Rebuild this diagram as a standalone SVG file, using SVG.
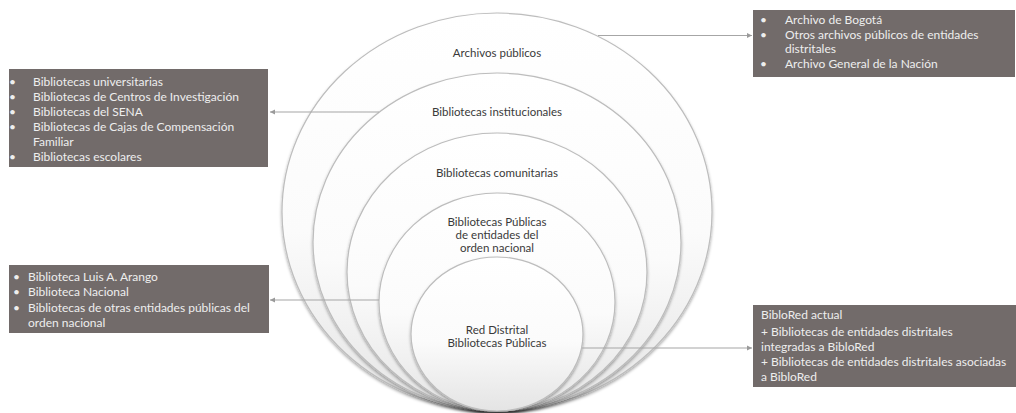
<svg xmlns="http://www.w3.org/2000/svg" width="1016" height="413" viewBox="0 0 1016 413">
<defs>
<linearGradient id="gfill" x1="0" y1="0" x2="0" y2="1">
<stop offset="0" stop-color="#ffffff"/>
<stop offset="0.55" stop-color="#fbfbfb"/>
<stop offset="1" stop-color="#e4e4e4"/>
</linearGradient>
<filter id="sh" x="-10%" y="-10%" width="120%" height="125%">
<feDropShadow dx="0" dy="2" stdDeviation="1.6" flood-color="#000" flood-opacity="0.35"/>
</filter>
<marker id="ah" markerWidth="6" markerHeight="6" refX="5" refY="3" orient="auto" markerUnits="userSpaceOnUse">
<path d="M0,0.5 L5,3 L0,5.5 Z" fill="#9a9a9a"/>
</marker>
<style>
.ring{fill:url(#gfill);stroke:#bdbdbd;stroke-width:1.2;filter:url(#sh)}
.lbl{font-family:Lato,"Open Sans","Liberation Sans",sans-serif;font-size:11.5px;fill:#3a3a3a;text-anchor:middle}
.box{fill:#726b6a}
.bt{font-family:Lato,"Open Sans","Liberation Sans",sans-serif;font-size:12px;fill:#eeeeee}
.con{stroke:#a6a6a6;stroke-width:1.2;fill:none;marker-end:url(#ah)}
</style>
</defs>
<rect width="1016" height="413" fill="#ffffff"/>

<g id="ring-archivos">
<ellipse class="ring" cx="497" cy="212" rx="215" ry="199"/>
<text class="lbl" x="497" y="57">Archivos públicos</text>
</g>
<g id="ring-institucionales">
<ellipse class="ring" cx="497" cy="242" rx="184" ry="169"/>
<text class="lbl" x="497" y="116">Bibliotecas institucionales</text>
</g>
<g id="ring-comunitarias">
<ellipse class="ring" cx="497" cy="272" rx="150" ry="139"/>
<text class="lbl" x="497" y="177">Bibliotecas comunitarias</text>
</g>
<g id="ring-nacional">
<ellipse class="ring" cx="497" cy="302" rx="118" ry="109"/>
<text class="lbl" x="497" y="226">Bibliotecas Públicas</text>
<text class="lbl" x="497" y="239">de entidades del</text>
<text class="lbl" x="497" y="252">orden nacional</text>
</g>
<g id="ring-red">
<ellipse class="ring" cx="497" cy="334" rx="86" ry="77"/>
<text class="lbl" x="497" y="334">Red Distrital</text>
<text class="lbl" x="497" y="347">Bibliotecas Públicas</text>
</g>

<g id="connectors">
<line class="con" x1="598" y1="35.5" x2="752" y2="35.5"/>
<line class="con" x1="379" y1="112" x2="270" y2="112"/>
<line class="con" x1="379" y1="300" x2="270" y2="300"/>
<line class="con" x1="582" y1="348" x2="752" y2="348"/>
</g>

<g id="box-archivos">
<rect class="box" x="753" y="10" width="262" height="67"/>
<text class="bt"><tspan x="760" y="24">•</tspan><tspan x="785" y="24">Archivo de Bogotá</tspan><tspan x="760" y="39">•</tspan><tspan x="785" y="39">Otros archivos públicos de entidades</tspan><tspan x="785" y="53">distritales</tspan><tspan x="760" y="68">•</tspan><tspan x="785" y="68">Archivo General de la Nación</tspan></text>
</g>

<g id="box-institucionales">
<rect class="box" x="9" y="69" width="259" height="98"/>
<text class="bt"><tspan x="9" y="86">•</tspan><tspan x="33" y="86">Bibliotecas universitarias</tspan><tspan x="9" y="101">•</tspan><tspan x="33" y="101">Bibliotecas de Centros de Investigación</tspan><tspan x="9" y="116">•</tspan><tspan x="33" y="116">Bibliotecas del SENA</tspan><tspan x="9" y="131">•</tspan><tspan x="33" y="131">Bibliotecas de Cajas de Compensación</tspan><tspan x="33" y="146">Familiar</tspan><tspan x="9" y="161">•</tspan><tspan x="33" y="161">Bibliotecas escolares</tspan></text>
</g>

<g id="box-nacional">
<rect class="box" x="9" y="265" width="260" height="68"/>
<text class="bt"><tspan x="13" y="281">•</tspan><tspan x="28" y="281">Biblioteca Luis A. Arango</tspan><tspan x="13" y="296">•</tspan><tspan x="28" y="296">Biblioteca Nacional</tspan><tspan x="13" y="312">•</tspan><tspan x="28" y="312">Bibliotecas de otras entidades públicas del</tspan><tspan x="28" y="327">orden nacional</tspan></text>
</g>

<g id="box-red">
<rect class="box" x="753" y="305" width="263" height="82"/>
<text class="bt"><tspan x="761" y="319">BibloRed actual</tspan><tspan x="761" y="336">+ Bibliotecas de entidades distritales</tspan><tspan x="761" y="351">integradas a BibloRed</tspan><tspan x="761" y="366">+ Bibliotecas de entidades distritales asociadas</tspan><tspan x="761" y="381">a BibloRed</tspan></text>
</g>
</svg>
